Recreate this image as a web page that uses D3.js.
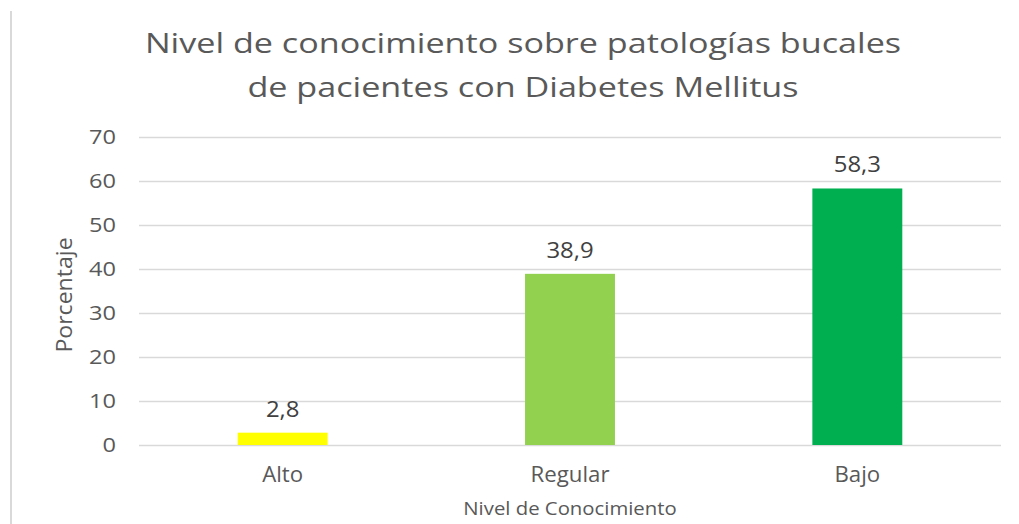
<!DOCTYPE html>
<html>
<head>
<meta charset="utf-8">
<script src="https://cdn.jsdelivr.net/npm/d3@7"></script>
<style>
  body { margin: 0; background: #fff; }
  svg { display: block; font-family: "Open Sans", "Noto Sans", sans-serif; }
</style>
</head>
<body>
<svg id="chart" width="1019" height="524"></svg>
<script>
// chart data
const categories = ['Alto', 'Regular', 'Bajo'];
const values = [2.8, 38.9, 58.3];
const barColors = ['#FFFF00', '#92D050', '#00B050'];
const yTicks = [0, 10, 20, 30, 40, 50, 60, 70];
const titleLines = ['Nivel de conocimiento sobre patologías bucales', 'de pacientes con Diabetes Mellitus'];

var svg = d3.select('#chart');

var margin = {top: 137, right: 18, bottom: 79, left: 139},
    width = +svg.attr('width') - margin.left - margin.right,
    height = +svg.attr('height') - margin.top - margin.bottom;

// the source picture is a bit wider than tall, text gets squeezed out horizontally
var sx = 1.14;

// widen text around its own x position
function stretch(sel, k) {
    sel.each(function() {
        var t = d3.select(this);
        var x0 = +t.attr('x') || 0;
        var pre = t.attr('transform') || '';
        t.attr('x', x0 / k)
         .attr('transform', pre + ' scale(' + k + ',1)');
    });
}

svg.append('rect')
    .attr('width', 1019).attr('height', 524)
    .attr('fill', '#fff');

// thin frame line at left
svg.append('line')
    .attr('x1', 11).attr('x2', 11)
    .attr('y1', 11).attr('y2', 524)
    .attr('stroke', '#d9d9d9')
    .attr('stroke-width', 2);

// title
var title = svg.append('g')
    .selectAll('text')
    .data(titleLines)
  .enter().append('text')
    .attr('x', 523)
    .attr('y', function(d, i) { return 53 + i * 44; })
    .attr('text-anchor', 'middle')
    .attr('font-size', 28)
    .attr('fill', '#595959')
    .text(function(d) { return d; });
stretch(title, 1.22);

var g = svg.append('g')
    .attr('transform', 'translate(' + margin.left + ',' + margin.top + ')');

var pin = 0.687;
var x = d3.scaleBand()
    .domain(categories)
    .range([0, width])
    .paddingInner(pin)
    .paddingOuter(pin / 2);

var y = d3.scaleLinear()
    .domain([0, 70])
    .range([height, 0]);

// gridlines + tick labels
var yAxis = g.append('g')
    .call(d3.axisLeft(y).tickValues(yTicks).tickSize(-width).tickPadding(23));
yAxis.select('.domain').remove();
yAxis.selectAll('.tick line').attr('stroke', '#d9d9d9').attr('stroke-width', 1.6);
yAxis.selectAll('.tick text')
    .attr('fill', '#595959')
    .attr('font-size', 20)
    .attr('font-family', '"Open Sans", sans-serif');
stretch(yAxis.selectAll('.tick text'), 1.18);

// bars
g.selectAll('.bar')
    .data(values)
  .enter().append('rect')
    .attr('class', 'bar')
    .attr('x', function(d, i) { return x(categories[i]); })
    .attr('width', x.bandwidth())
    .attr('y', function(d) { return y(d); })
    .attr('height', function(d) { return height - y(d); })
    .attr('fill', function(d, i) { return barColors[i]; });

// value labels
var vals = g.selectAll('.val')
    .data(values)
  .enter().append('text')
    .attr('class', 'val')
    .attr('x', function(d, i) { return x(categories[i]) + x.bandwidth() / 2; })
    .attr('y', function(d) { return y(d) - 16; })
    .attr('text-anchor', 'middle')
    .attr('font-size', 21)
    .attr('fill', '#404040')
    .text(function(d) { return String(d).replace('.', ','); });
stretch(vals, sx);

// x axis labels
var xAxis = g.append('g')
    .attr('transform', 'translate(0,' + height + ')')
    .call(d3.axisBottom(x).tickSize(0).tickPadding(22));
xAxis.select('.domain').remove();
xAxis.selectAll('.tick text')
    .attr('fill', '#595959')
    .attr('font-size', 21)
    .attr('font-family', '"Open Sans", sans-serif');
stretch(xAxis.selectAll('.tick text'), 1.06);

// axis titles
var xTitle = svg.append('text')
    .attr('x', margin.left + width / 2)
    .attr('y', 515)
    .attr('text-anchor', 'middle')
    .attr('font-size', 18)
    .attr('fill', '#595959')
    .text('Nivel de Conocimiento');
stretch(xTitle, 1.13);

var yTitle = svg.append('text')
    .attr('transform', 'translate(72,295) rotate(-90)')
    .attr('text-anchor', 'middle')
    .attr('font-size', 21)
    .attr('fill', '#595959')
    .text('Porcentaje');
stretch(yTitle, 1.1);
</script>
</body>
</html>
